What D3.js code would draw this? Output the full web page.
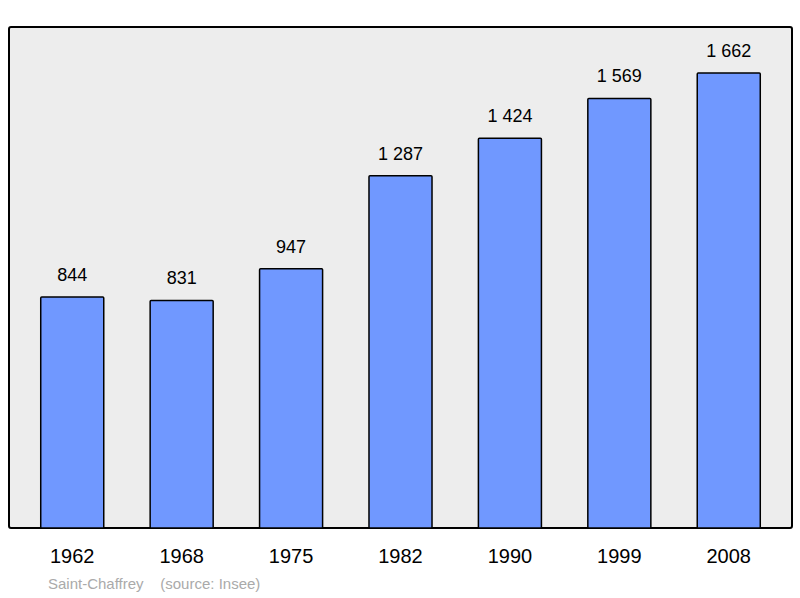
<!DOCTYPE html>
<html><head><meta charset="utf-8">
<script src="https://cdn.jsdelivr.net/npm/d3@7"></script>
<style>body{margin:0;background:#fff}text{font-family:"Liberation Sans",Arial,sans-serif}</style>
</head><body><svg id="c" width="800" height="598"></svg>
<script>
const years = ["1962","1968","1975","1982","1990","1999","2008"];
const population = [844, 831, 947, 1287, 1424, 1569, 1662];
const svg = d3.select("#c");
const L=9, R=792, T=27, B=528;
const x = d3.scaleBand().domain(years).range([L,R]).paddingInner(0.424).paddingOuter(0.29);
const y = d3.scaleLinear().domain([0,1830]).range([B,T]);
svg.append("rect").attr("x",L).attr("y",T).attr("width",R-L).attr("height",B-T)
  .attr("fill","#ededed").attr("stroke","#000").attr("stroke-width",2).attr("rx",2);
const fmt = v => d3.format(",")(v).replace(/,/g," ");
svg.selectAll(".bar").data(population).join("rect")
  .attr("x",(d,i)=>x(years[i])).attr("y",d=>y(d))
  .attr("width",x.bandwidth()).attr("height",d=>B-y(d))
  .attr("fill","#7098ff").attr("stroke","#000").attr("stroke-width",1.5).attr("rx",1);
svg.selectAll(".val").data(population).join("text")
  .attr("x",(d,i)=>x(years[i])+x.bandwidth()/2).attr("y",d=>y(d)-16)
  .attr("text-anchor","middle").attr("font-size",18).text(fmt);
svg.selectAll(".yr").data(years).join("text")
  .attr("x",d=>x(d)+x.bandwidth()/2).attr("y",563)
  .attr("text-anchor","middle").attr("font-size",20).text(d=>d);
svg.append("text").attr("x",48).attr("y",589).attr("font-size",15).attr("fill","#aaa")
  .attr("xml:space","preserve").text("Saint-Chaffrey    (source: Insee)");
</script></body></html>
